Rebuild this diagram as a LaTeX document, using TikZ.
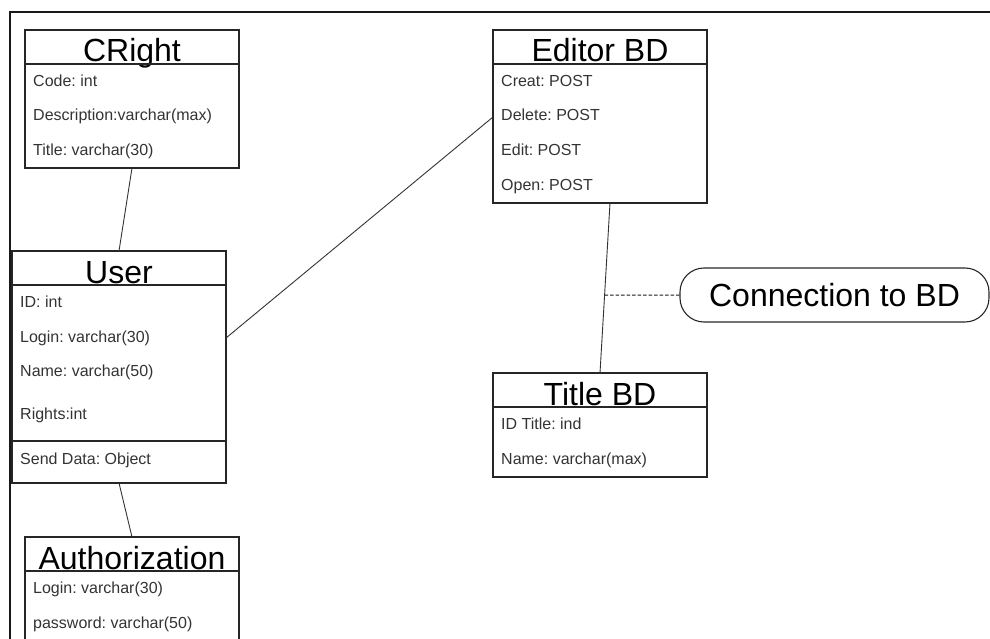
\documentclass[tikz,border=0pt]{standalone}
\usepackage{fontspec}
\setmainfont{Liberation Sans}
\frenchspacing
\usetikzlibrary{calc}
\usetikzlibrary{positioning}
\tikzstyle{classhead}=[draw=black!85,line width=1.1pt,outer sep=0pt,inner sep=0pt,anchor=north west,minimum width=214pt,minimum height=34pt,text height=30pt,text depth=0pt,font=\fontsize{32}{32}\selectfont]
\tikzstyle{classbody}=[draw=black!85,line width=1.1pt,outer sep=0pt,inner sep=0pt,minimum width=214pt]
\tikzstyle{rowtext}=[anchor=west,inner sep=0pt,text=black!80,text height=11pt,text depth=3pt,font=\fontsize{16}{16}\selectfont]
\tikzstyle{link}=[black!80,line width=0.9pt]
\tikzstyle{bubble}=[draw=black!85,line width=1.1pt,inner sep=0pt,rounded corners=24pt,minimum width=309pt,minimum height=54pt,text height=23pt,text depth=0pt,font=\fontsize{32}{32}\selectfont]
\newcommand{\newclass}[4]{% name, top left corner, title, body height
	\node[classhead] (#1) at (#2) {#3};
	\node[classbody,minimum height=#4pt,below=0pt of #1] (#1body) {};
}
\newcommand{\classrows}[2]{% body node, rows (one every 34.5pt)
	\foreach \row [count=\i] in {#2}
		\node[rowtext] (#1-\i) at ($(#1.north west)+(8,{-16+34.5*\i})$) {\row};
}
\begin{document}
\begin{tikzpicture}[x=1pt,y=-1pt]
	\useasboundingbox (0,0) rectangle (990,639);
	\draw[line width=2.5pt,black!90] (990,12) -- (10,12) -- (10,639);
	\newclass{cright}{25,30}{CRight}{104}
	\classrows{crightbody}{Code: int,Description:varchar(max),Title: varchar(30)}
	\newclass{editor}{493,30}{Editor BD}{139}
	\classrows{editorbody}{Creat: POST,Delete: POST,Edit: POST,Open: POST}
	\newclass{user}{12,251}{User}{156}
	\classrows{userbody}{ID: int,Login: varchar(30),Name: varchar(50)}
	\node[rowtext] (userbody-4) at ($(userbody.north west)+(8,130)$) {Rights:int};
	\node[classbody,minimum height=42pt,below=0pt of userbody] (usermeth) {};
	\node[rowtext] (usermeth-1) at ($(usermeth.north west)+(8,19)$) {Send Data: Object};
	\newclass{title}{493,373}{Title BD}{70}
	\classrows{titlebody}{ID Title: ind,Name: varchar(max)}
	\newclass{auth}{25,537}{Authorization}{110}
	\classrows{authbody}{Login: varchar(30),password: varchar(50)}
	\node[bubble] (conn) at (834.5,295) {Connection to BD};
	% links
	\draw[link] (crightbody.south) -- (user.north);
	\draw[link] (usermeth.south) -- (auth.north);
	\draw[link] (userbody-2 -| userbody.east) -- (editorbody-2 -| editorbody.west);
	\coordinate (editorlink) at ($(editorbody.south)+(10,0)$);
	\draw[link] (editorlink) -- (title.north);
	\coordinate (tap) at (intersection of editorlink--title.north and conn.west--conn.east);
	\draw[link,black!90,line width=1pt,dash pattern=on 3.5pt off 2pt] (tap) -- (conn.west);
\end{tikzpicture}
\end{document}
